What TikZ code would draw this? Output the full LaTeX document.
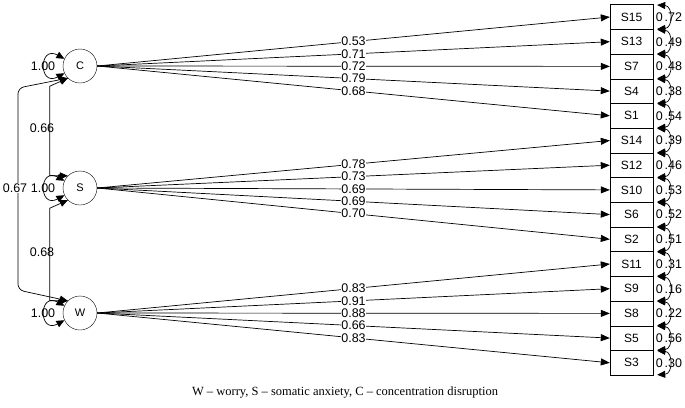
\documentclass[tikz,border=0pt]{standalone}
\usepackage{fontspec}
\setmainfont{Liberation Sans}
\newfontfamily\capfont{Liberation Serif}
\usetikzlibrary{arrows.meta}
\begin{document}
\begin{tikzpicture}[x=1pt,y=-1pt,
  lat/.style={circle,draw,minimum size=34pt,inner sep=0pt,font=\fontsize{11}{13}\selectfont},
  obs/.style={rectangle,draw,minimum width=43pt,minimum height=24.7pt,inner sep=0pt,font=\fontsize{12}{14}\selectfont},
  ld/.style={-{Triangle[length=9pt,width=7pt]},line width=0.7pt},
  lab/.style={font=\fontsize{12.5}{14}\selectfont,fill=white,inner sep=0.3pt},
  cv/.style={{Triangle[length=8pt,width=7pt]}-{Triangle[length=8pt,width=7pt]},line width=0.7pt},
  txt/.style={font=\fontsize{12.5}{14}\selectfont,inner sep=0.5pt}]
\useasboundingbox (0,0) rectangle (685,407);
\node[lat] (C) at (80,66) {C};
\node[lat] (S) at (80,188) {S};
\node[lat] (W) at (80,313) {W};
\foreach \n/\k in {S15/0,S13/1,S7/2,S4/3,S1/4,S14/5,S12/6,S10/7,S6/8,S2/9,S11/10,S9/11,S8/12,S5/13,S3/14}{
  \node[obs] (\n) at (631.5,{17+24.7*\k}) {\n};
}
\foreach \f/\t/\v in {C/S15/0.53,C/S13/0.71,C/S7/0.72,C/S4/0.79,C/S1/0.68,
  S/S14/0.78,S/S12/0.73,S/S10/0.69,S/S6/0.69,S/S2/0.70,
  W/S11/0.83,W/S9/0.91,W/S8/0.88,W/S5/0.66,W/S3/0.83}{
  \draw[ld] (\f.east) -- node[lab,pos=0.5]{\v} (\t.west);
}
% residuals
\foreach \n/\v in {S15/.72,S13/.49,S7/.48,S4/.38,S1/.54,S14/.39,S12/.46,S10/.53,S6/.52,S2/.51,S11/.31,S9/.16,S8/.22,S5/.56,S3/.30}{
  \coordinate (a\n) at ([xshift=4pt,yshift=-12pt]\n.east);
  \coordinate (b\n) at ([xshift=4pt,yshift=12pt]\n.east);
  \draw[cv] (a\n) .. controls +(16,-1) and +(16,1) .. (b\n);
  \node[txt,anchor=west] at ([xshift=2pt]\n.east) {0\kern0.15em\v};
}
% variances on latents
\foreach \n in {C,S,W}{
  \draw[cv] (\n.155) .. controls +(-26,-14) and +(-26,14) .. (\n.205);
  \node[txt] at ([xshift=-37pt]\n.center) {1.00};
}
% covariances
\draw[cv] (C.225) -- ++(-18,8) coordinate (c1) -- (c1 |- S.135) -- (S.135);
\node[txt] at (42,128) {0.66};
\draw[cv] (S.225) -- ++(-18,8) coordinate (c2) -- (c2 |- W.135) -- (W.135);
\node[txt] at (42,252) {0.68};
\draw[cv,rounded corners=6pt] (C.225) -- (18,88) -- (18,290) -- (W.135);
\node[txt,fill=white] at (15,188) {0.67};
\node[font=\capfont\fontsize{12.5}{15}\selectfont] at (345,393) {W – worry, S – somatic anxiety, C – concentration disruption};
\end{tikzpicture}
\end{document}
